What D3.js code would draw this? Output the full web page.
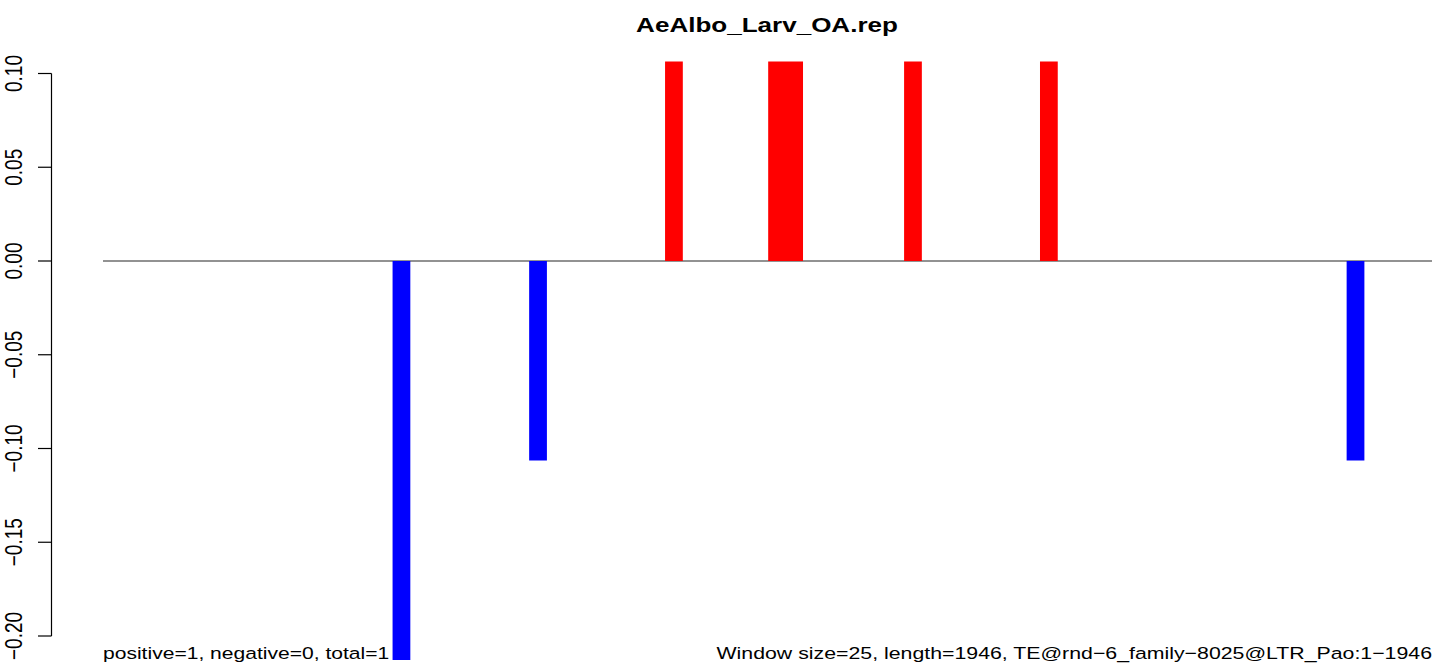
<!DOCTYPE html>
<html>
<head>
<meta charset="utf-8">
<script src="https://cdn.jsdelivr.net/npm/d3@7"></script>
<style>
  html, body { margin: 0; padding: 0; background: #fff; }
  svg { display: block; }
  text { font-family: "Liberation Sans", Arial, Helvetica, sans-serif; fill: #000; }
</style>
</head>
<body>
<svg id="chart" width="1439" height="664"></svg>
<script>
// ---- data ----
const titleText = "AeAlbo_Larv_OA.rep";
const seqLength = 1946;
const windowStart = [424, 624, 823, 974, 1173, 1372, 1821];
const windowEnd   = [450, 650, 849, 1025, 1199, 1398, 1847];
const windowValue = [-0.2128, -0.1064, 0.1064, 0.1064, 0.1064, 0.1064, -0.1064];
const yTicks = [0.10, 0.05, 0.00, -0.05, -0.10, -0.15, -0.20];
const leftNote = "positive=1, negative=0, total=1";
const rightNote = "Window size=25, length=1946, TE@rnd\u22126_family\u22128025@LTR_Pao:1\u22121946";

// ---- layout ----
const svg = d3.select("#chart");
const sx = 1.24; // horizontal stretch of glyphs
const x = d3.scaleLinear().domain([0, seqLength]).range([103, 1432]);
const y = d3.scaleLinear().domain([-0.2, 0.1]).range([636, 73.5]);

// zero line
svg.append("line")
  .attr("x1", x(0)).attr("x2", x(seqLength))
  .attr("y1", y(0)).attr("y2", y(0))
  .attr("stroke", "#6e6e6e").attr("stroke-width", 1.3);

// bars
const bars = windowStart.map((s, i) => ({ s, e: windowEnd[i], v: windowValue[i] }));
svg.append("g").selectAll("rect").data(bars).join("rect")
  .attr("x", d => x(d.s))
  .attr("width", d => x(d.e) - x(d.s))
  .attr("y", d => Math.min(y(d.v), y(0)))
  .attr("height", d => Math.abs(y(d.v) - y(0)))
  .attr("fill", d => d.v >= 0 ? "#ff0000" : "#0000ff");

// y axis
const axisG = svg.append("g").attr("transform", "translate(51.5,0)");
axisG.append("line")
  .attr("x1", 0).attr("x2", 0)
  .attr("y1", y(0.10)).attr("y2", y(-0.20))
  .attr("stroke", "#000").attr("stroke-width", 1.2);
axisG.selectAll("line.tick").data(yTicks).join("line")
  .attr("class", "tick")
  .attr("x1", -13.5).attr("x2", 0)
  .attr("y1", d => y(d)).attr("y2", d => y(d))
  .attr("stroke", "#000").attr("stroke-width", 1.2);
const fmt = d => (d < 0 ? "\u2212" : "") + d3.format(".2f")(Math.abs(d));
svg.append("g").selectAll("text").data(yTicks).join("text")
  .attr("transform", d => `translate(22,${y(d)}) scale(${sx},1) rotate(-90)`)
  .attr("text-anchor", "middle")
  .style("font-size", "19px")
  .text(fmt);

// title
svg.append("text")
  .attr("transform", `translate(767,32) scale(${sx},1)`)
  .attr("text-anchor", "middle")
  .style("font-size", "21px").style("font-weight", "bold")
  .text(titleText);

// bottom notes
svg.append("text")
  .attr("transform", `translate(103,659) scale(${sx},1)`)
  .attr("text-anchor", "start")
  .style("font-size", "17px")
  .text(leftNote);
svg.append("text")
  .attr("transform", `translate(1432,659) scale(1.253,1)`)
  .attr("text-anchor", "end")
  .style("font-size", "17px")
  .text(rightNote);
</script>
</body>
</html>
